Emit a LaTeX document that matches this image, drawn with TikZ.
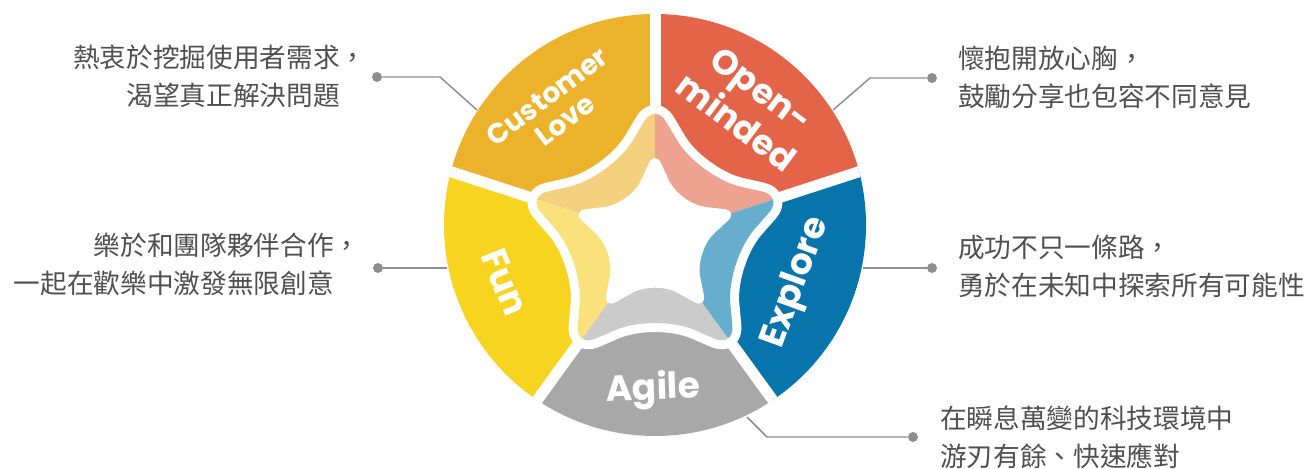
\documentclass[tikz,border=0pt]{standalone}
\usepackage{fontspec}
\setmainfont{Poppins}
\newfontfamily\cjk{Noto Sans CJK TC}
\usetikzlibrary{calc}
\definecolor{cl}{HTML}{EDB22B}
\definecolor{om}{HTML}{E4644A}
\definecolor{ex}{HTML}{0775AC}
\definecolor{ag}{HTML}{A9A8A8}
\definecolor{fu}{HTML}{F7D420}
\definecolor{cll}{HTML}{F3D07E}
\definecolor{oml}{HTML}{EEA290}
\definecolor{exl}{HTML}{67ADCD}
\definecolor{agl}{HTML}{CCCBCB}
\definecolor{ful}{HTML}{F9E27C}
\definecolor{txt}{HTML}{505050}
\definecolor{con}{HTML}{8E8E8E}
% rounded star path centred at the origin: tip radius, concave radius, tip fraction, concave fraction
\def\mystar#1#2#3#4{%
  ($(90:#1)!#3!(126:#2)$)
  \foreach \a in {90,162,234,306,18} {
    -- ($(\a+36:#2)!#4!(\a:#1)$)
       .. controls ($(\a+36:#2)!{0.45*#4}!(\a:#1)$) and ($(\a+36:#2)!{0.45*#4}!(\a+72:#1)$)
       .. ($(\a+36:#2)!#4!(\a+72:#1)$)
    -- ($(\a+72:#1)!#3!(\a+36:#2)$)
       .. controls ($(\a+72:#1)!{0.45*#3}!(\a+36:#2)$) and ($(\a+72:#1)!{0.45*#3}!(\a+108:#2)$)
       .. ($(\a+72:#1)!#3!(\a+108:#2)$)
  } -- cycle}
\tikzset{
  wlabel/.style={text=white, inner sep=0pt, align=center},
  desc/.style={text=txt, inner sep=0pt, font={\cjk\fontsize{20pt}{28.5pt}\selectfont}},
  dot/.style={circle, fill=con, minimum size=7.5pt, inner sep=0pt},
  conn/.style={draw=con, line width=1.1pt},
  gap/.style={draw=white, line width=8.25pt},
}
\begin{document}
\begin{tikzpicture}[x=0.75pt,y=0.75pt]
\useasboundingbox (0,0) rectangle (1312,468);
\coordinate (O) at (655,243);
\coordinate (S) at (655,230);
% outer wedges
\begin{scope}
  \clip (O) circle (211);
  \begin{scope}[shift={(S)}]
    \fill[cl] (0,0) -- (90:500) -- (126:500) -- (162:500) -- cycle;
    \fill[om] (0,0) -- (18:500) -- (54:500) -- (90:500) -- cycle;
    \fill[ex] (0,0) -- (-54:500) -- (-18:500) -- (18:500) -- cycle;
    \fill[ag] (0,0) -- (-126:500) -- (-90:500) -- (-54:500) -- cycle;
    \fill[fu] (0,0) -- (162:500) -- (198:500) -- (234:500) -- cycle;
    \foreach \g in {90,18,-54,-126,162} \draw[gap] (0,0) -- (\g:260);
  \end{scope}
\end{scope}
\begin{scope}[shift={(S)}]
  % white margin round the star
  \filldraw[white, line width=13.5pt, line join=round] \mystar{135}{75}{0.25}{0.5};
  % light band
  \begin{scope}
    \clip \mystar{135}{75}{0.25}{0.5};
    \fill[cll] (0,0) -- (90:300) -- (126:300) -- (162:300) -- cycle;
    \fill[oml] (0,0) -- (18:300) -- (54:300) -- (90:300) -- cycle;
    \fill[exl] (0,0) -- (-54:300) -- (-18:300) -- (18:300) -- cycle;
    \fill[agl] (0,0) -- (-126:300) -- (-90:300) -- (-54:300) -- cycle;
    \fill[ful] (0,0) -- (162:300) -- (198:300) -- (234:300) -- cycle;
  \end{scope}
  \fill[white] \mystar{88}{42}{0.25}{0.45};
\end{scope}
% wedge labels
\node[wlabel, rotate=37, font={\fontsize{21pt}{22pt}\selectfont\bfseries}] (lcl) at (556,360) {Customer\\Love};
\node[wlabel, rotate=-37, font={\fontsize{26pt}{31pt}\selectfont\bfseries}] (lom) at (749,362) {Open-\\minded};
\node[wlabel, rotate=70, font={\fontsize{27pt}{29pt}\selectfont\bfseries}] (lex) at (797,185) {Explore};
\node[wlabel, rotate=2, font={\fontsize{27pt}{29pt}\selectfont\bfseries}] (lag) at (653,78) {Agile};
\node[wlabel, rotate=-68, font={\fontsize{27pt}{29pt}\selectfont\bfseries}] (lfu) at (505,186) {Fun};
% descriptions
\node[desc, anchor=east, align=right] (t1) at (340,392) {熱衷於挖掘使用者需求\rlap{，}\\渴望真正解決問題};
\node[desc, anchor=west, align=left] (t2) at (958,391) {懷抱開放心胸，\\鼓勵分享也包容不同意見};
\node[desc, anchor=east, align=right] (t3) at (334,204) {樂於和團隊夥伴合作\rlap{，}\\一起在歡樂中激發無限創意};
\node[desc, anchor=west, align=left] (t4) at (958,202) {成功不只一條路，\\勇於在未知中探索所有可能性};
\node[desc, anchor=west, align=left] (t5) at (940,31) {在瞬息萬變的科技環境中\\游刃有餘、快速應對};
% connectors
\node[dot] (d1) at (377,391) {};
\coordinate (k1) at (440,391);
\coordinate (e1) at (477,358);
\draw[conn] (d1) -- (k1) -- (e1);
\node[dot] (d2) at (932,390) {};
\coordinate (k2) at (870,390);
\coordinate (e2) at (833,358);
\draw[conn] (d2) -- (k2) -- (e2);
\node[dot] (d3) at (378,200) {};
\coordinate (e3) at (447,200);
\draw[conn] (d3) -- (e3);
\node[dot] (d4) at (932,200) {};
\coordinate (e4) at (863,200);
\draw[conn] (d4) -- (e4);
\node[dot] (d5) at (913,31) {};
\coordinate (k5) at (767,31);
\coordinate (e5) at (747,51);
\draw[conn] (d5) -- (k5) -- (e5);
\end{tikzpicture}
\end{document}
